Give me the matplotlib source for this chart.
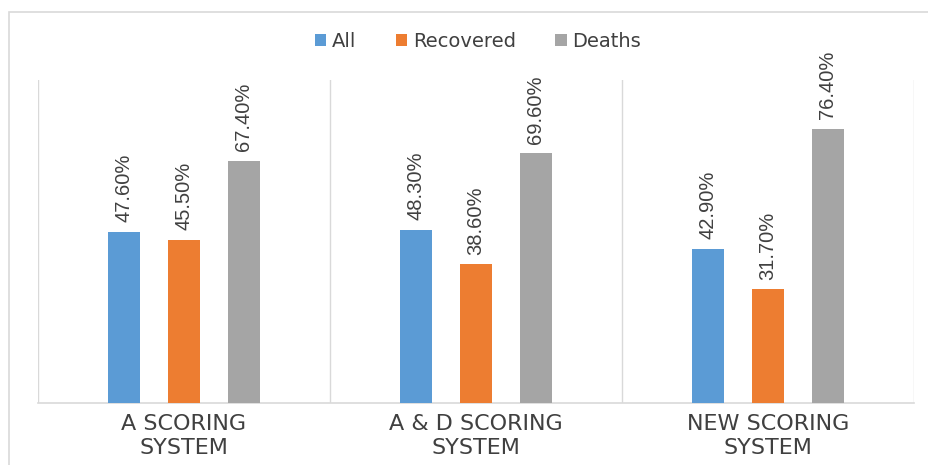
import matplotlib
matplotlib.use("Agg")
import matplotlib.pyplot as plt
import numpy as np
from matplotlib.patches import Rectangle

plt.rcParams['font.family'] = ['Liberation Sans', 'DejaVu Sans']

categories = ["A SCORING\nSYSTEM", "A & D SCORING\nSYSTEM", "NEW SCORING\nSYSTEM"]
series_names = ["All", "Recovered", "Deaths"]
all_vals = [47.6, 48.3, 42.9]
recovered_vals = [45.5, 38.6, 31.7]
deaths_vals = [67.4, 69.6, 76.4]
colors = ["#5B9BD5", "#ED7D31", "#A5A5A5"]

W, H = 929, 465
fig = plt.figure(figsize=(W / 100, H / 100), dpi=100)

# outer chart frame
fig.patches.append(Rectangle((9 / W, -0.1), 1.2, (H - 12) / H + 0.1,
                             transform=fig.transFigure, fill=False,
                             edgecolor="#D9D9D9", linewidth=1.2))

ax = fig.add_axes([38 / W, (H - 403) / H, (914 - 38) / W, (403 - 80) / H])
x = np.arange(len(categories))
offset = 0.205
width = 0.11
text_color = "#404040"

for i, (vals, name, c) in enumerate(zip([all_vals, recovered_vals, deaths_vals], series_names, colors)):
    pos = x + (i - 1) * offset
    ax.bar(pos, vals, width=width, color=c, label=name, zorder=3)
    for p, v in zip(pos, vals):
        ax.text(p, v + 2.7, f"{v:.2f}%", rotation=90, ha="center", va="bottom",
                fontsize=14.5, color=text_color)

ax.set_xlim(-0.5, len(categories) - 0.5)
ax.set_ylim(0, 90)
ax.set_yticks([])
ax.set_xticks(x)
ax.set_xticklabels(categories, fontsize=16, color=text_color, linespacing=1.22,
                   family=["DejaVu Sans"])
ax.tick_params(axis="x", length=0, pad=8)

for s in ["top", "right", "left"]:
    ax.spines[s].set_visible(False)
ax.spines["bottom"].set_color("#D9D9D9")
ax.spines["bottom"].set_linewidth(1.2)

# group separators
for b in np.arange(-0.5, len(categories), 1.0):
    ax.axvline(b, color="#D9D9D9", linewidth=1.0, zorder=1)

leg = fig.legend(loc="center", bbox_to_anchor=(478 / W, 1 - 41.5 / H), ncol=3,
                 frameon=False, prop={"family": "DejaVu Sans", "size": 14},
                 handlelength=0.6, handleheight=0.6,
                 handletextpad=0.3, columnspacing=2.0)
for t in leg.get_texts():
    t.set_color(text_color)

fig.savefig("out.png", dpi=100)
